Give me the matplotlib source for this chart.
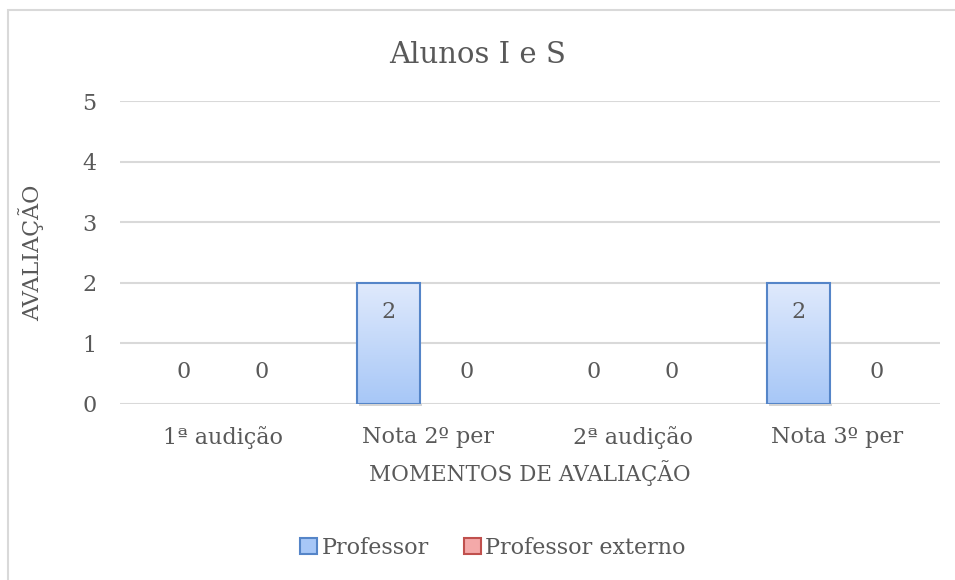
import numpy as np
import matplotlib
matplotlib.use("Agg")
import matplotlib.pyplot as plt
from matplotlib.patches import Rectangle, Patch
from matplotlib.colors import LinearSegmentedColormap

# data
categories = ["1ª audição", "Nota 2º per", "2ª audição", "Nota 3º per"]
series_names = ["Professor", "Professor externo"]
professor = [0, 2, 0, 2]
professor_externo = [0, 0, 0, 0]

title = "Alunos I e S"
ylabel = "AVALIAÇÃO"
xlabel = "MOMENTOS DE AVALIAÇÃO"

plt.rcParams["font.family"] = ["DejaVu Serif"]
text_color = "#595959"
grid_color = "#d9d9d9"

fig = plt.figure(figsize=(9.55, 5.8), dpi=100)
ax = fig.add_axes([120 / 955, 1 - 404 / 580, 820 / 955, 303 / 580])

# chart border (runs off the image at right and bottom)
fig.patches.append(Rectangle((8 / 955, -0.2), 1.2, 1.2 - 10 / 580, transform=fig.transFigure,
                             fill=False, edgecolor=grid_color, linewidth=1.5))

x = np.arange(len(categories))
width = 0.31
offset = 0.19

styles = [
    {"edge": "#5585c8", "top": "#e0eafc", "bottom": "#a7c7f7"},
    {"edge": "#c0504d", "top": "#fbe4e4", "bottom": "#f4a9a9"},
]

grad = np.linspace(0, 1, 256).reshape(-1, 1)

for i, (vals, st) in enumerate(zip([professor, professor_externo], styles)):
    xs = x + (offset if i else -offset)
    cmap = LinearSegmentedColormap.from_list("g%d" % i, [st["bottom"], st["top"]])
    bars = ax.bar(xs, vals, width=width, facecolor="none", edgecolor=st["edge"],
                  linewidth=1.5, zorder=3)
    for b, v in zip(bars, vals):
        x0, w = b.get_x(), b.get_width()
        if v > 0:
            im = ax.imshow(grad, extent=[x0, x0 + w, 0, v], origin="lower", aspect="auto",
                           cmap=cmap, zorder=2)
            im.set_clip_path(b)
            # soft shadow under the bar
            ax.add_patch(Rectangle((x0 + 0.01, -0.04), w, 0.04, facecolor="#d4d4d4",
                                   edgecolor="none", zorder=1.5, clip_on=False))
        else:
            b.set_visible(False)
        ty = v - 0.48 if v > 0 else 0.52
        ax.text(x0 + w / 2, ty, str(v), ha="center", va="center",
                fontsize=16, color=text_color, zorder=4)

ax.set_xlim(-0.5, len(categories) - 0.5)
ax.set_ylim(0, 5)
ax.set_yticks(range(6))
ax.set_xticks(x)
ax.set_xticklabels(categories)
ax.tick_params(axis="both", length=0, labelsize=16, colors=text_color)
ax.tick_params(axis="x", pad=16)
ax.tick_params(axis="y", pad=17)
for s in ax.spines.values():
    s.set_visible(False)
ax.grid(axis="y", color=grid_color, linewidth=1.5, zorder=0)
ax.set_axisbelow(True)

ax.set_xlabel(xlabel, fontsize=15.5, color=text_color, labelpad=8)
ax.set_ylabel(ylabel, fontsize=16, color=text_color)
ax.yaxis.set_label_coords(-76 / 820, 0.5)
fig.text(0.5, 1 - 55 / 580, title, ha="center", va="center", fontsize=21, color=text_color)

handles = [Patch(facecolor=st["bottom"], edgecolor=st["edge"], linewidth=1.5) for st in styles]
fig.legend(handles, series_names, loc="center", bbox_to_anchor=(493 / 955, 1 - 548 / 580), ncol=2,
           frameon=False, fontsize=16, handlelength=0.75, handleheight=0.75,
           handletextpad=0.2, columnspacing=1.6, labelcolor=text_color)

fig.savefig("out.png", dpi=100)
